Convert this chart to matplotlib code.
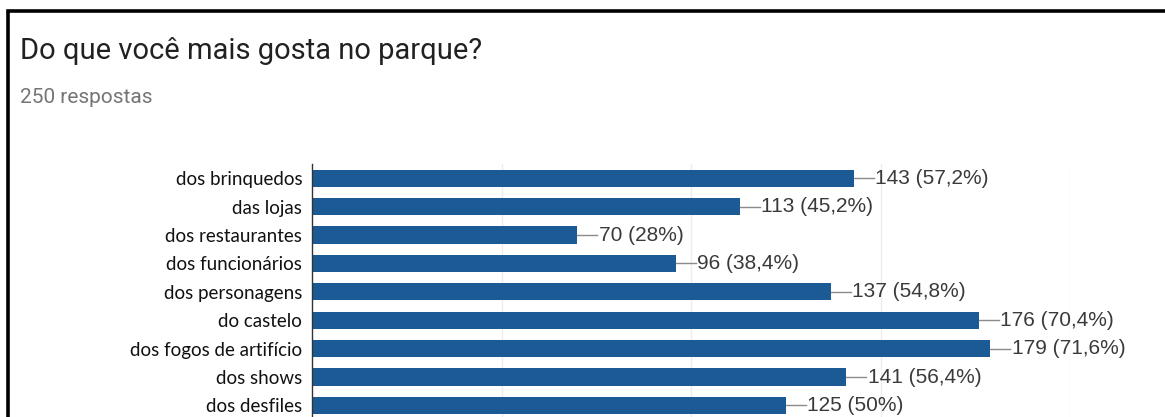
import matplotlib.pyplot as plt
from matplotlib.patches import Rectangle

# Survey answers: "Do que você mais gosta no parque?" (250 respostas)
categories = [
    "dos brinquedos",
    "das lojas",
    "dos restaurantes",
    "dos funcionários",
    "dos personagens",
    "do castelo",
    "dos fogos de artifício",
    "dos shows",
    "dos desfiles",
]
counts = [143, 113, 70, 96, 137, 176, 179, 141, 125]
percent_labels = ["57,2%", "45,2%", "28%", "38,4%", "54,8%", "70,4%", "71,6%", "56,4%", "50%"]
grid_ticks = [50, 100, 150, 200]

BAR_COLOR = "#1b5a94"
W, H = 1165, 417

fig = plt.figure(figsize=(W / 100, H / 100), dpi=100)
fig.patch.set_facecolor("white")

# thick frame around the card (only top and left edges fall inside the image)
fig.add_artist(Rectangle((8 / W, -0.2), 1.2, (H - 11) / H + 0.2,
                         transform=fig.transFigure, fill=False,
                         edgecolor="black", linewidth=2.6))

fig.text(20 / W, 1 - 59 / H, "Do que você mais gosta no parque?",
         family="Roboto", fontsize=21, color="#212121", va="baseline")
fig.text(20 / W, 1 - 103 / H, "250 respostas",
         family="Roboto", fontsize=15, color="#757575", va="baseline")

# axes placed in pixels: left edge at x=312, 200 units wide, rows extend past the bottom
ax_left, ax_right = 312, 1070
ax_top, row_h = 164, 28.4
ax_bottom = ax_top + row_h * len(categories)
ax = fig.add_axes([ax_left / W, 1 - ax_bottom / H,
                   (ax_right - ax_left) / W, (ax_bottom - ax_top) / H])

ypos = list(range(len(categories)))
ax.barh(ypos, counts, height=0.6, color=BAR_COLOR, zorder=2)

lead = 5.3
for y, c, p in zip(ypos, counts, percent_labels):
    ax.plot([c, c + lead], [y, y], color="#8a8a8a", lw=1, zorder=2, clip_on=False)
    ax.text(c + lead + 0.3, y, f"{c} ({p})", family="Liberation Sans",
            fontsize=15, color="#3a3a3a", va="center", ha="left", clip_on=False)

ax.set_xlim(0, 200)
ax.set_ylim(len(categories) - 0.5, -0.5)
ax.set_xticks(grid_ticks)
ax.xaxis.grid(True, color="#ededed", lw=1, zorder=0)
ax.tick_params(axis="x", length=0, labelbottom=False)
ax.set_yticks(ypos)
ax.set_yticklabels(categories, family="Lato", fontsize=13.5, color="#111111")
ax.tick_params(axis="y", length=0, pad=7)
for side in ["top", "right", "bottom"]:
    ax.spines[side].set_visible(False)
ax.spines["left"].set_color("#333333")
ax.spines["left"].set_linewidth(1)

fig.savefig("out.png", dpi=100)
